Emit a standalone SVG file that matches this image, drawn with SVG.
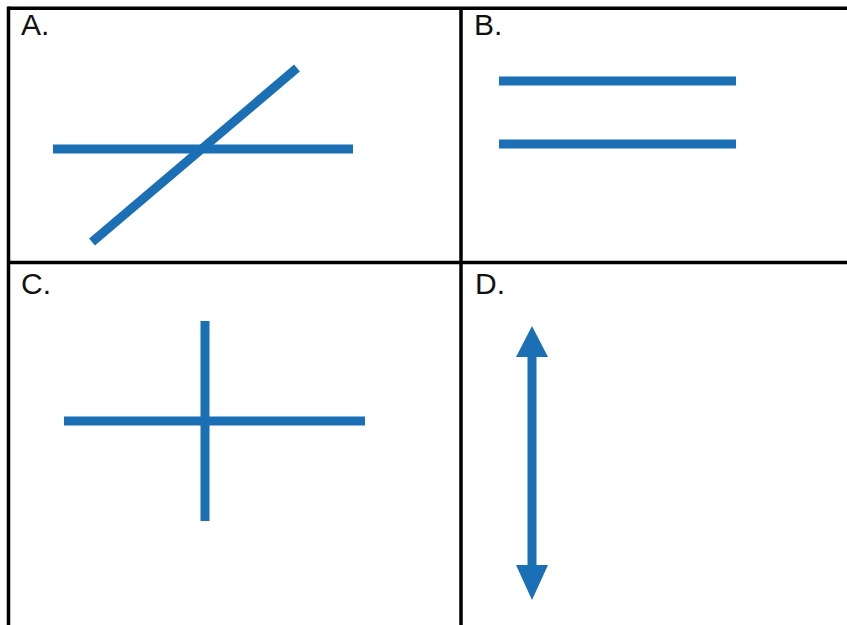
<svg xmlns="http://www.w3.org/2000/svg" width="847" height="625" viewBox="0 0 847 625">
<style>
.grid{stroke:#000;stroke-width:3.5;fill:none}
.lbl{font-family:"Liberation Sans",Arial,sans-serif;font-size:30px;fill:#111}
.bl{stroke:#1a6fb5;stroke-width:9;fill:none}
.ah{fill:#1a6fb5}
</style>
<rect width="847" height="625" fill="#fff"/>
<g id="grid">
<line class="grid" x1="8.5" y1="8.2" x2="847" y2="8.2"/>
<line class="grid" x1="8.5" y1="6.5" x2="8.5" y2="625"/>
<line class="grid" x1="461" y1="8" x2="461" y2="625"/>
<line class="grid" x1="8.5" y1="262.5" x2="847" y2="262.5"/>
</g>
<g id="cellA">
<text class="lbl" x="21" y="35">A.</text>
<line class="bl" x1="53" y1="149" x2="353" y2="149"/>
<line class="bl" x1="92" y1="242" x2="297" y2="68"/>
</g>
<g id="cellB">
<text class="lbl" x="474" y="35">B.</text>
<line class="bl" x1="499" y1="81" x2="736" y2="81"/>
<line class="bl" x1="499" y1="144" x2="736" y2="144"/>
</g>
<g id="cellC">
<text class="lbl" x="21" y="294">C.</text>
<line class="bl" x1="64" y1="421" x2="365" y2="421"/>
<line class="bl" x1="205" y1="321" x2="205" y2="521"/>
</g>
<g id="cellD">
<text class="lbl" x="475" y="294">D.</text>
<line class="bl" x1="532" y1="352" x2="532" y2="570"/>
<polygon class="ah" points="532,326 516,357 548,357"/>
<polygon class="ah" points="532,600 516,565 548,565"/>
</g>
</svg>
